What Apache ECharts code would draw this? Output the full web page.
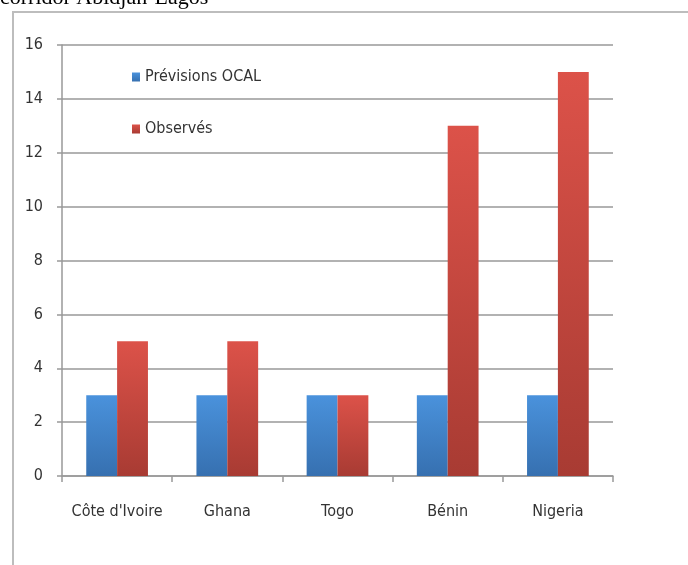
<!DOCTYPE html>
<html>
<head>
<meta charset="utf-8">
<script src="https://cdn.jsdelivr.net/npm/echarts@6/dist/echarts.min.js"></script>
<style>
  html, body { margin: 0; padding: 0; background: #fff; }
  #chart { width: 688px; height: 565px; }
</style>
</head>
<body>
<div id="chart"></div>
<script>
// pays du corridor
var categories = ["Côte d'Ivoire", 'Ghana', 'Togo', 'Bénin', 'Nigeria'];
var previsions = [3, 3, 3, 3, 3];
var observes = [5, 5, 3, 13, 15];
var yTicks = [0, 2, 4, 6, 8, 10, 12, 14, 16];

var font = '"DejaVu Sans Condensed", "Liberation Sans Narrow", sans-serif';

function grad(top, bottom) {
	return new echarts.graphic.LinearGradient(0, 0, 0, 1, [
		{ offset: 0, color: top },
		{ offset: 1, color: bottom }
	]);
}

var chart = echarts.init(document.getElementById('chart'));
chart.setOption({
	animation: false,
	graphic: [
		{
			type: 'text', left: 0, top: -13,
			style: { text: 'corridor Abidjan-Lagos', font: '22px "Liberation Serif", serif', fill: '#000' }
		},
		{
			type: 'rect', shape: { x: 13, y: 12, width: 700, height: 600 },
			style: { fill: 'none', stroke: '#bdbdbd', lineWidth: 2 }
		}
	],
	legend: {
		orient: 'vertical',
		left: 127, top: 64,
		itemGap: 36,
		itemWidth: 8, itemHeight: 9,
		icon: 'rect',
		textStyle: { fontFamily: font, fontSize: 16, color: '#333' },
		data: ['Prévisions OCAL', 'Observés']
	},
	grid: { left: 62, right: 75, top: 45, bottom: 89, containLabel: false },
	xAxis: {
		type: 'category',
		data: categories,
		axisLine: { lineStyle: { color: '#999', width: 1.5 } },
		axisTick: { show: true, length: 6, lineStyle: { color: '#999', width: 1.5 } },
		axisLabel: { interval: 0, fontFamily: font, fontSize: 16, color: '#333', margin: 28 }
	},
	yAxis: {
		type: 'value',
		min: yTicks[0], max: yTicks[yTicks.length - 1], interval: 2,
		axisLine: { show: true, lineStyle: { color: '#999', width: 1.5 } },
		axisTick: { show: true, length: 5, lineStyle: { color: '#999', width: 1.5 } },
		axisLabel: { fontFamily: font, fontSize: 16, color: '#333', margin: 19 },
		splitLine: { lineStyle: { color: '#999', width: 1.5 } }
	},
	series: [
		{
			name: 'Prévisions OCAL',
			type: 'bar',
			data: previsions,
			barGap: '0%',
			barCategoryGap: '44%',
			itemStyle: { color: grad('#4a92dc', '#3670b0') }
		},
		{
			name: 'Observés',
			type: 'bar',
			data: observes,
			itemStyle: { color: grad('#dc5249', '#a83b33') }
		}
	]
});
</script>
</body>
</html>
